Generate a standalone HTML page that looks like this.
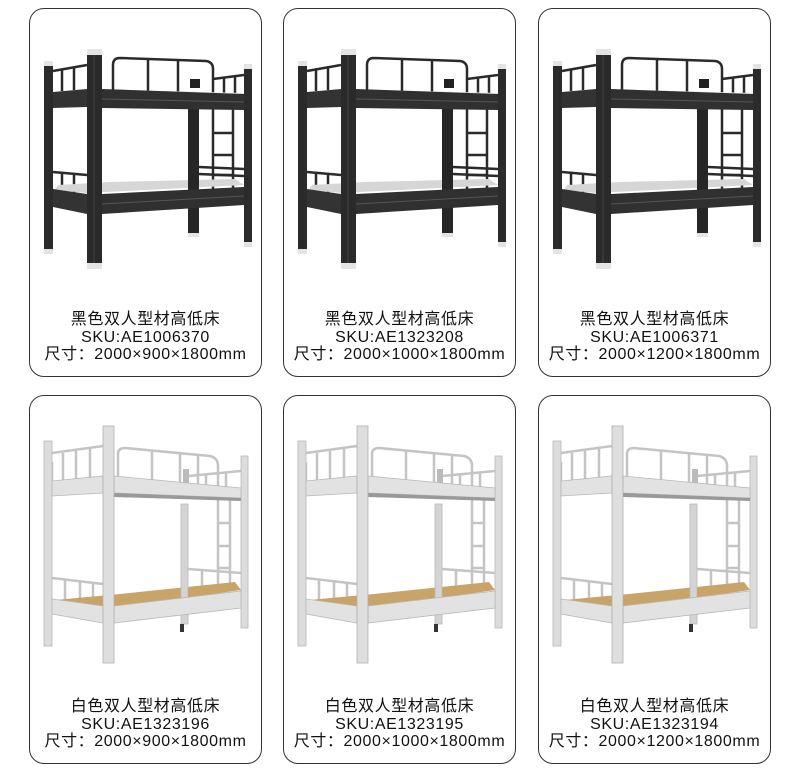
<!DOCTYPE html>
<html><head><meta charset="utf-8"><style>
body{margin:0;width:800px;height:768px;background:#fff;position:relative;overflow:hidden;font-family:"Liberation Sans","Noto Sans CJK SC",sans-serif}
.card{position:absolute;width:233px;border:1.5px solid #333;border-radius:15px;background:#fff;box-sizing:border-box}
.r1{top:8px;height:369px}.r2{top:395px;height:369px}
.card svg{position:absolute;left:0;top:0}
.t{position:absolute;left:-10px;right:-10px;text-align:center;color:#111;font-size:16px;line-height:17.5px;letter-spacing:0.6px}
.r1 .t{top:302px}.r2 .t{top:302px}
</style></head><body>
<svg width="0" height="0" style="position:absolute">
<defs>
<symbol id="bk" viewBox="0 0 232 368">
<g fill="none" stroke="#2a2a2a" stroke-width="2.5">
<path d="M83,82 L83,56 Q83,49 90,49 L176,52 Q183,53 183,60 L183,84"/>
<line x1="118" y1="50" x2="118" y2="82"/><line x1="148" y1="51" x2="148" y2="83"/>
<line x1="23" y1="62" x2="57" y2="56"/><line x1="32" y1="61" x2="32" y2="82"/><line x1="44" y1="59" x2="44" y2="81"/>
<line x1="183" y1="70" x2="214" y2="66"/><line x1="194" y1="69" x2="194" y2="85"/><line x1="205" y1="68" x2="205" y2="85"/>
<line x1="23" y1="163" x2="57" y2="166"/><line x1="32" y1="164" x2="32" y2="182"/><line x1="44" y1="165" x2="44" y2="184"/>
<line x1="169" y1="158" x2="214" y2="160"/><line x1="169" y1="165" x2="214" y2="167"/>
<line x1="183" y1="99" x2="183" y2="185"/><line x1="203" y1="99" x2="203" y2="180"/>
<line x1="183" y1="124" x2="203" y2="124"/><line x1="183" y1="146" x2="203" y2="146"/><line x1="183" y1="166" x2="203" y2="166"/>
</g>
<rect x="160" y="70" width="10" height="9" fill="#222"/>
<polygon points="25,181 57,184 214,176 205,170 80,173 28,176" fill="#d6d6d6"/>
<polygon points="57,80 214,84 214,86 57,82" fill="#e8e8e8"/>
<rect x="14" y="55" width="9" height="189" fill="#2b2b2b"/>
<rect x="158" y="95" width="11" height="133" fill="#262626"/>
<rect x="214" y="58" width="8" height="179" fill="#2b2b2b"/>
<polygon points="23,83 57,80 57,98 23,99" fill="#333"/>
<polygon points="72,80 214,85 214,101 72,99" fill="#303030"/>
<line x1="72" y1="90" x2="214" y2="93" stroke="#555" stroke-width="1"/>
<polygon points="23,180 57,185 57,205 23,198" fill="#333"/>
<polygon points="72,185 214,178 214,196 72,205" fill="#303030"/>
<line x1="72" y1="195" x2="214" y2="187" stroke="#555" stroke-width="1"/>
<rect x="57" y="42" width="15" height="217" fill="#2a2a2a"/>
<line x1="64" y1="42" x2="64" y2="259" stroke="#444" stroke-width="1"/>
<g fill="#e4e4e4"><rect x="57" y="40" width="15" height="6"/><rect x="57" y="254" width="15" height="6"/><rect x="14" y="52" width="9" height="5"/><rect x="14" y="240" width="9" height="5"/><rect x="214" y="55" width="8" height="5"/><rect x="214" y="233" width="8" height="5"/><rect x="158" y="224" width="11" height="4"/></g>
</symbol>
<symbol id="wh" viewBox="0 0 232 368">
<g fill="none" stroke="#c4c4c4" stroke-width="2.5">
<path d="M88,86 L88,58 Q88,52 95,52 L180,60 Q188,62 188,70 L188,90"/>
<line x1="122" y1="55" x2="122" y2="86"/><line x1="150" y1="57" x2="150" y2="88"/><line x1="168" y1="59" x2="168" y2="90"/>
<line x1="22" y1="57" x2="73" y2="50"/><line x1="22" y1="66" x2="22" y2="85"/><line x1="33" y1="57" x2="33" y2="84"/><line x1="46" y1="55" x2="46" y2="83"/><line x1="60" y1="53" x2="60" y2="82"/>
<line x1="158" y1="80" x2="211" y2="75"/><line x1="176" y1="79" x2="176" y2="92"/><line x1="196" y1="77" x2="196" y2="94"/>
<line x1="22" y1="182" x2="73" y2="188"/><line x1="35" y1="184" x2="35" y2="210"/><line x1="50" y1="185" x2="50" y2="212"/><line x1="63" y1="187" x2="63" y2="213"/>
<line x1="158" y1="173" x2="211" y2="177"/><line x1="172" y1="174" x2="172" y2="196"/>
<line x1="188" y1="102" x2="188" y2="195"/><line x1="200" y1="102" x2="200" y2="192"/>
<line x1="188" y1="127" x2="200" y2="127"/><line x1="188" y1="150" x2="200" y2="150"/><line x1="188" y1="172" x2="200" y2="172"/>
</g>
<rect x="153" y="73" width="6" height="14" fill="#bbb"/>
<polygon points="22,209 73,214 211,194 205,186 90,198 25,204" fill="#c9a468"/>
<rect x="14" y="45" width="8" height="205" fill="#dcdcdc" stroke="#b8b8b8" stroke-width="0.8"/>
<rect x="151" y="108" width="7" height="120" fill="#d4d4d4" stroke="#b8b8b8" stroke-width="0.8"/>
<rect x="211" y="60" width="7" height="172" fill="#dcdcdc" stroke="#b8b8b8" stroke-width="0.8"/>
<polygon points="22,85 73,80 73,97 22,100" fill="#e2e2e2" stroke="#b8b8b8" stroke-width="0.8"/>
<polygon points="84,80 211,92 211,102 84,97" fill="#e2e2e2" stroke="#b8b8b8" stroke-width="0.8"/>
<polygon points="84,97 211,102 211,105 84,101" fill="#999"/>
<polygon points="22,203 73,210 73,227 22,218" fill="#e2e2e2" stroke="#b8b8b8" stroke-width="0.8"/>
<polygon points="84,210 211,195 211,212 84,227" fill="#e2e2e2" stroke="#b8b8b8" stroke-width="0.8"/>
<rect x="150" y="228" width="4" height="8" fill="#333"/>
<rect x="73" y="30" width="11" height="237" fill="#dedede" stroke="#b0b0b0" stroke-width="0.8"/>
</symbol>
</defs></svg>

<div class="card r1" style="left:29px"><svg width="233" height="368"><use href="#bk" width="232" height="368"/></svg><div class="t">黑色双人型材高低床<br>SKU:AE1006370<br>尺寸：2000×900×1800mm</div></div>
<div class="card r1" style="left:283px"><svg width="233" height="368"><use href="#bk" width="232" height="368"/></svg><div class="t">黑色双人型材高低床<br>SKU:AE1323208<br>尺寸：2000×1000×1800mm</div></div>
<div class="card r1" style="left:538px"><svg width="233" height="368"><use href="#bk" width="232" height="368"/></svg><div class="t">黑色双人型材高低床<br>SKU:AE1006371<br>尺寸：2000×1200×1800mm</div></div>
<div class="card r2" style="left:29px"><svg width="233" height="368"><use href="#wh" width="232" height="368"/></svg><div class="t">白色双人型材高低床<br>SKU:AE1323196<br>尺寸：2000×900×1800mm</div></div>
<div class="card r2" style="left:283px"><svg width="233" height="368"><use href="#wh" width="232" height="368"/></svg><div class="t">白色双人型材高低床<br>SKU:AE1323195<br>尺寸：2000×1000×1800mm</div></div>
<div class="card r2" style="left:538px"><svg width="233" height="368"><use href="#wh" width="232" height="368"/></svg><div class="t">白色双人型材高低床<br>SKU:AE1323194<br>尺寸：2000×1200×1800mm</div></div>
</body></html>
